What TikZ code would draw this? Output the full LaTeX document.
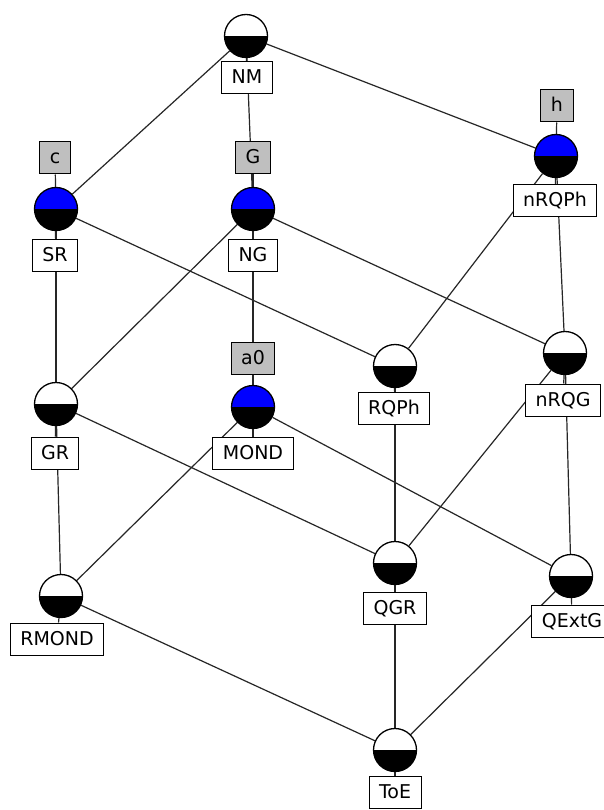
\documentclass[tikz,border=0pt]{standalone}
\usepackage{fontspec}
\setmainfont{DejaVu Sans}
\usetikzlibrary{backgrounds}
\begin{document}
\begin{tikzpicture}[x=1pt,y=-1pt,
 concept/.style={circle, draw=black, line width=1.3pt, minimum size=43pt, inner sep=0pt,
   path picture={\fill[#1] (path picture bounding box.north west) rectangle (path picture bounding box.east);
                 \fill[black] (path picture bounding box.west) rectangle (path picture bounding box.south east);}},
 concept/.default=white,
 objlabel/.style={draw=black, line width=1pt, fill=white, font=\fontsize{19}{22}\selectfont,
   inner xsep=10pt, inner ysep=8pt, text height=14pt, text depth=2pt},
 attrlabel/.style={objlabel, fill=black!25},
 edge/.style={line width=1.2pt, draw=black!85}]
\useasboundingbox (0,0) rectangle (604,810);
% concepts
\node[concept] (NM) at (246,36) {};
\node[concept=blue] (SR) at (56,209) {};
\node[concept=blue] (NG) at (253,209) {};
\node[concept=blue] (nRQPh) at (556,156) {};
\node[concept=blue] (MOND) at (253,407) {};
\node[concept] (GR) at (56,404) {};
\node[concept] (RQPh) at (395,366) {};
\node[concept] (nRQG) at (565,353) {};
\node[concept] (RMOND) at (61,596) {};
\node[concept] (QGR) at (395,563) {};
\node[concept] (QExtG) at (571,576) {};
\node[concept] (ToE) at (395,750) {};
% labels
\node[objlabel] (lNM) at (247,78) {NM};
\node[attrlabel] (lc) at (55,158) {c};
\node[objlabel] (lSR) at (55,255) {SR};
\node[attrlabel] (lG) at (253,158) {G};
\node[objlabel] (lNG) at (253,255) {NG};
\node[attrlabel] (lh) at (557,106) {h};
\node[objlabel] (lnRQPh) at (555,201) {nRQPh};
\node[attrlabel] (la0) at (253,358) {a0};
\node[objlabel] (lMOND) at (253,453) {MOND};
\node[objlabel] (lGR) at (55,453) {GR};
\node[objlabel] (lRQPh) at (394,408) {RQPh};
\node[objlabel] (lnRQG) at (563,400) {nRQG};
\node[objlabel] (lRMOND) at (57,639) {RMOND};
\node[objlabel] (lQGR) at (395,608) {QGR};
\node[objlabel] (lQExtG) at (572,621) {QExtG};
\node[objlabel] (lToE) at (395,792) {ToE};
\begin{scope}[on background layer]
\fill[white] (0,0) rectangle (604,810);
% lattice edges
\draw[edge] (NM) -- (SR);
\draw[edge] (NM) -- (NG);
\draw[edge] (NM) -- (nRQPh);
\draw[edge] (SR) -- (GR);
\draw[edge] (SR) -- (RQPh);
\draw[edge] (NG) -- (GR);
\draw[edge] (NG) -- (MOND);
\draw[edge] (NG) -- (nRQG);
\draw[edge] (nRQPh) -- (RQPh);
\draw[edge] (nRQPh) -- (nRQG);
\draw[edge] (GR) -- (RMOND);
\draw[edge] (GR) -- (QGR);
\draw[edge] (MOND) -- (RMOND);
\draw[edge] (MOND) -- (QExtG);
\draw[edge] (RQPh) -- (QGR);
\draw[edge] (nRQG) -- (QGR);
\draw[edge] (nRQG) -- (QExtG);
\draw[edge] (RMOND) -- (ToE);
\draw[edge] (QGR) -- (ToE);
\draw[edge] (QExtG) -- (ToE);
% label connectors
\draw[edge] (NM) -- (lNM);
\draw[edge] (SR) -- (lc);
\draw[edge] (SR) -- (lSR);
\draw[edge] (NG) -- (lG);
\draw[edge] (NG) -- (lNG);
\draw[edge] (nRQPh) -- (lh);
\draw[edge] (nRQPh) -- (lnRQPh);
\draw[edge] (MOND) -- (la0);
\draw[edge] (MOND) -- (lMOND);
\draw[edge] (GR) -- (lGR);
\draw[edge] (RQPh) -- (lRQPh);
\draw[edge] (nRQG) -- (lnRQG);
\draw[edge] (RMOND) -- (lRMOND);
\draw[edge] (QGR) -- (lQGR);
\draw[edge] (QExtG) -- (lQExtG);
\draw[edge] (ToE) -- (lToE);
\end{scope}
\end{tikzpicture}
\end{document}
